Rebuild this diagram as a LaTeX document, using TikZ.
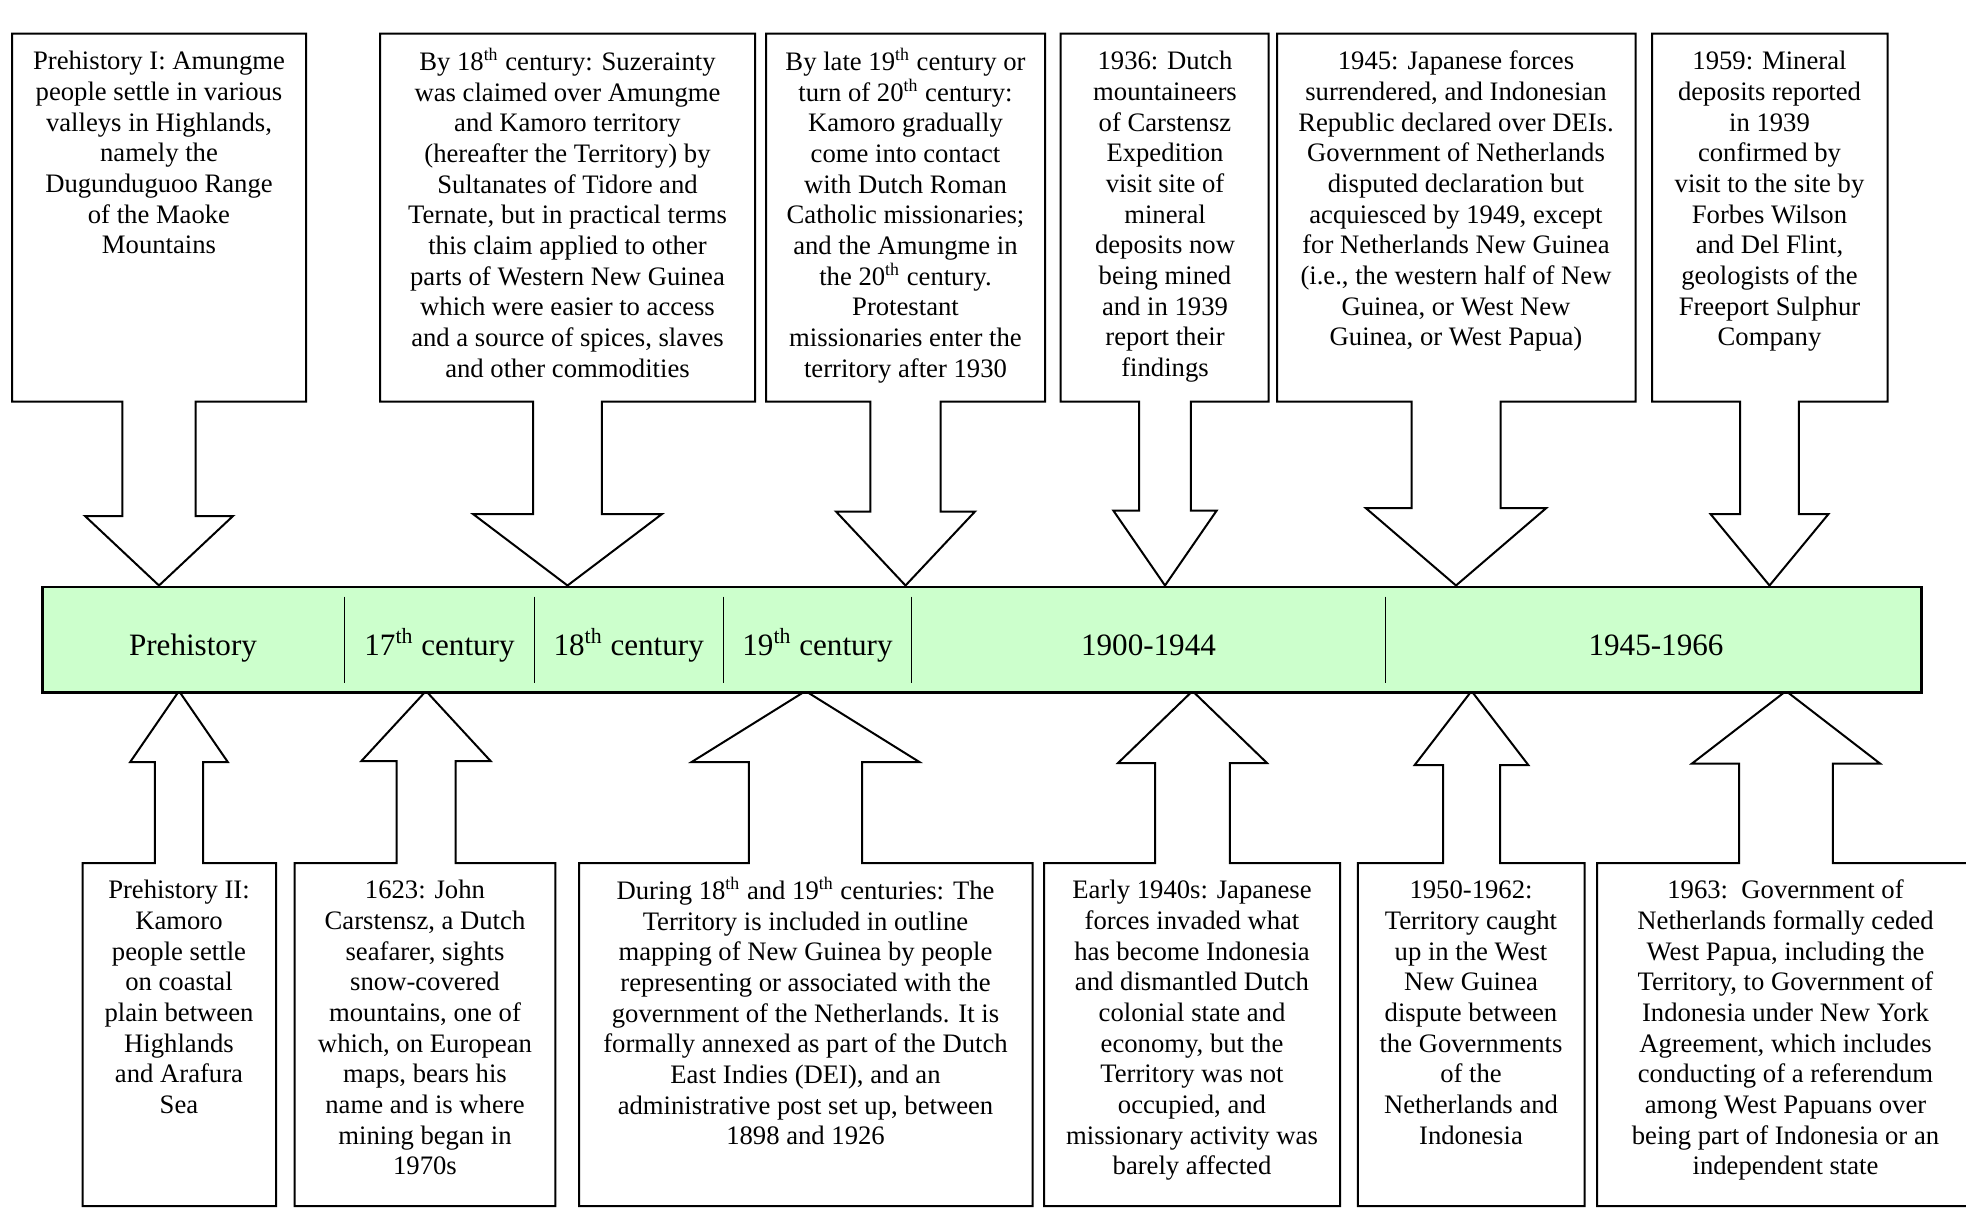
\documentclass[tikz,border=0pt]{standalone}
\usepackage{fontspec}
\setmainfont{Liberation Serif}
\definecolor{barGreen}{HTML}{CCFFCC}
\newcommand\myboxfont{\fontsize{12pt}{13.8pt}\selectfont\lineskiplimit=-20pt\relax\lineskip=0pt\relax}
% #1 left, #2 far edge y, #3 right, #4 near edge y (arrow side), #5 centre x,
% #6 shaft half width, #7 head half width, #8 head base y, #9 tip y
\newcommand\mycallout[9]{\path[callbox] (#1,#2) -- (#3,#2) -- (#3,#4) -- ({#5+#6},#4) -- ({#5+#6},#8) -- ({#5+#7},#8) -- (#5,#9) -- ({#5-#7},#8) -- ({#5-#6},#8) -- ({#5-#6},#4) -- (#1,#4) -- cycle;}
\begin{document}
\begin{tikzpicture}[x=0.45pt,y=-0.45pt,
  callbox/.style={draw=black,line width=0.9pt,fill=white,line join=miter},
  txt/.style={anchor=north,inner sep=0pt,align=center,font=\myboxfont},
  lbl/.style={anchor=base,inner sep=0pt,font=\fontsize{14pt}{16.8pt}\selectfont},
  barbox/.style={draw=black,line width=1.3pt,fill=barGreen,inner sep=0pt,anchor=north west,
    minimum width=845.4pt,minimum height=47.5pt},
  divider/.style={draw=black,line width=0.45pt}]
\useasboundingbox (0,0) rectangle (1966,1208);
\clip (0,0) rectangle (1966,1208);
\fill[white] (0,0) rectangle (1966,1208);

% top callouts
\mycallout{12}{33.5}{306}{401.5}{159}{36.7}{74}{516}{585.5}
\mycallout{380}{33.5}{755}{401.5}{567.5}{34.3}{94.5}{514}{585.5}
\mycallout{766}{33.5}{1045}{401.5}{905.5}{35.2}{69.5}{511.5}{585.5}
\mycallout{1060.5}{33.5}{1268.5}{401.5}{1165}{25.8}{51.7}{510.5}{585.5}
\mycallout{1277}{33.5}{1635.5}{401.5}{1456}{44.5}{90.3}{508}{585.5}
\mycallout{1652}{33.5}{1887.5}{401.5}{1769.5}{29.3}{59}{514}{585.5}

% bottom callouts
\mycallout{82.5}{1206}{276}{863}{179}{24.2}{48.8}{762}{691}
\mycallout{294.7}{1206}{555.4}{863}{426}{29.5}{64.6}{761}{691}
\mycallout{579}{1206}{1032.5}{863}{805.5}{56.6}{113.9}{762}{691}
\mycallout{1044}{1206}{1340.2}{863}{1192.5}{37.3}{74.5}{763}{691}
\mycallout{1357.8}{1206}{1584.6}{863}{1471.5}{28.5}{56.8}{765}{691}
\mycallout{1597}{1206}{1974}{863}{1786}{46.9}{94}{763.5}{691}

% timeline bar
\node[barbox] (bar) at (41,585.5) {};
\draw[divider] (344.8,596.7) -- (344.8,682.7);
\draw[divider] (534,596.7) -- (534,682.7);
\draw[divider] (723.4,596.7) -- (723.4,682.7);
\draw[divider] (911.5,596.7) -- (911.5,682.7);
\draw[divider] (1385.4,596.7) -- (1385.4,682.7);

\node[lbl] (pPre) at (193,655.5) {Prehistory};
\node[lbl] (p17) at (439.5,655.5) {17\textsuperscript{th} century};
\node[lbl] (p18) at (628.7,655.5) {18\textsuperscript{th} century};
\node[lbl] (p19) at (817.5,655.5) {19\textsuperscript{th} century};
\node[lbl] (p1900) at (1148.5,655.5) {1900-1944};
\node[lbl] (p1945) at (1656,655.5) {1945-1966};

% top texts
\node[txt] (tA) at (159,48) {\strut Prehistory I: Amungme\\people settle in various\\valleys in Highlands,\\namely the\\Dugunduguoo Range\\of the Maoke\\Mountains};
\node[txt] (tB) at (567.5,48) {\strut By 18\textsuperscript{th} century: Suzerainty\\was claimed over Amungme\\and Kamoro territory\\(hereafter the Territory) by\\Sultanates of Tidore and\\Ternate, but in practical terms\\this claim applied to other\\parts of Western New Guinea\\which were easier to access\\and a source of spices, slaves\\and other commodities};
\node[txt] (tC) at (905.5,48) {\strut By late 19\textsuperscript{th} century or\\turn of 20\textsuperscript{th} century:\\Kamoro gradually\\come into contact\\with Dutch Roman\\Catholic missionaries;\\and the Amungme in\\the 20\textsuperscript{th} century.\\Protestant\\missionaries enter the\\territory after 1930};
\node[txt] (tD) at (1165,48) {\strut 1936: Dutch\\mountaineers\\of Carstensz\\Expedition\\visit site of\\mineral\\deposits now\\being mined\\and in 1939\\report their\\findings};
\node[txt] (tE) at (1456,48) {\strut 1945: Japanese forces\\surrendered, and Indonesian\\Republic declared over DEIs.\\Government of Netherlands\\disputed declaration but\\acquiesced by 1949, except\\for Netherlands New Guinea\\(i.e., the western half of New\\Guinea, or West New\\Guinea, or West Papua)};
\node[txt] (tF) at (1769.5,48) {\strut 1959: Mineral\\deposits reported\\in 1939\\confirmed by\\visit to the site by\\Forbes Wilson\\and Del Flint,\\geologists of the\\Freeport Sulphur\\Company};

% bottom texts
\node[txt] (tG) at (179,877) {\strut Prehistory II:\\Kamoro\\people settle\\on coastal\\plain between\\Highlands\\and Arafura\\Sea};
\node[txt] (tH) at (425,877) {\strut 1623: John\\Carstensz, a Dutch\\seafarer, sights\\snow-covered\\mountains, one of\\which, on European\\maps, bears his\\name and is where\\mining began in\\1970s};
\node[txt] (tI) at (805.5,877) {\strut During 18\textsuperscript{th} and 19\textsuperscript{th} centuries: The\\Territory is included in outline\\mapping of New Guinea by people\\representing or associated with the\\government of the Netherlands. It is\\formally annexed as part of the Dutch\\East Indies (DEI), and an\\administrative post set up, between\\1898 and 1926};
\node[txt] (tJ) at (1192,877) {\strut Early 1940s: Japanese\\forces invaded what\\has become Indonesia\\and dismantled Dutch\\colonial state and\\economy, but the\\Territory was not\\occupied, and\\missionary activity was\\barely affected};
\node[txt] (tK) at (1471,877) {\strut 1950-1962:\\Territory caught\\up in the West\\New Guinea\\dispute between\\the Governments\\of the\\Netherlands and\\Indonesia};
\node[txt] (tL) at (1785.5,877) {\strut 1963:\ \ Government of\\Netherlands formally ceded\\West Papua, including the\\Territory, to Government of\\Indonesia under New York\\Agreement, which includes\\conducting of a referendum\\among West Papuans over\\being part of Indonesia or an\\independent state};
\end{tikzpicture}
\end{document}
